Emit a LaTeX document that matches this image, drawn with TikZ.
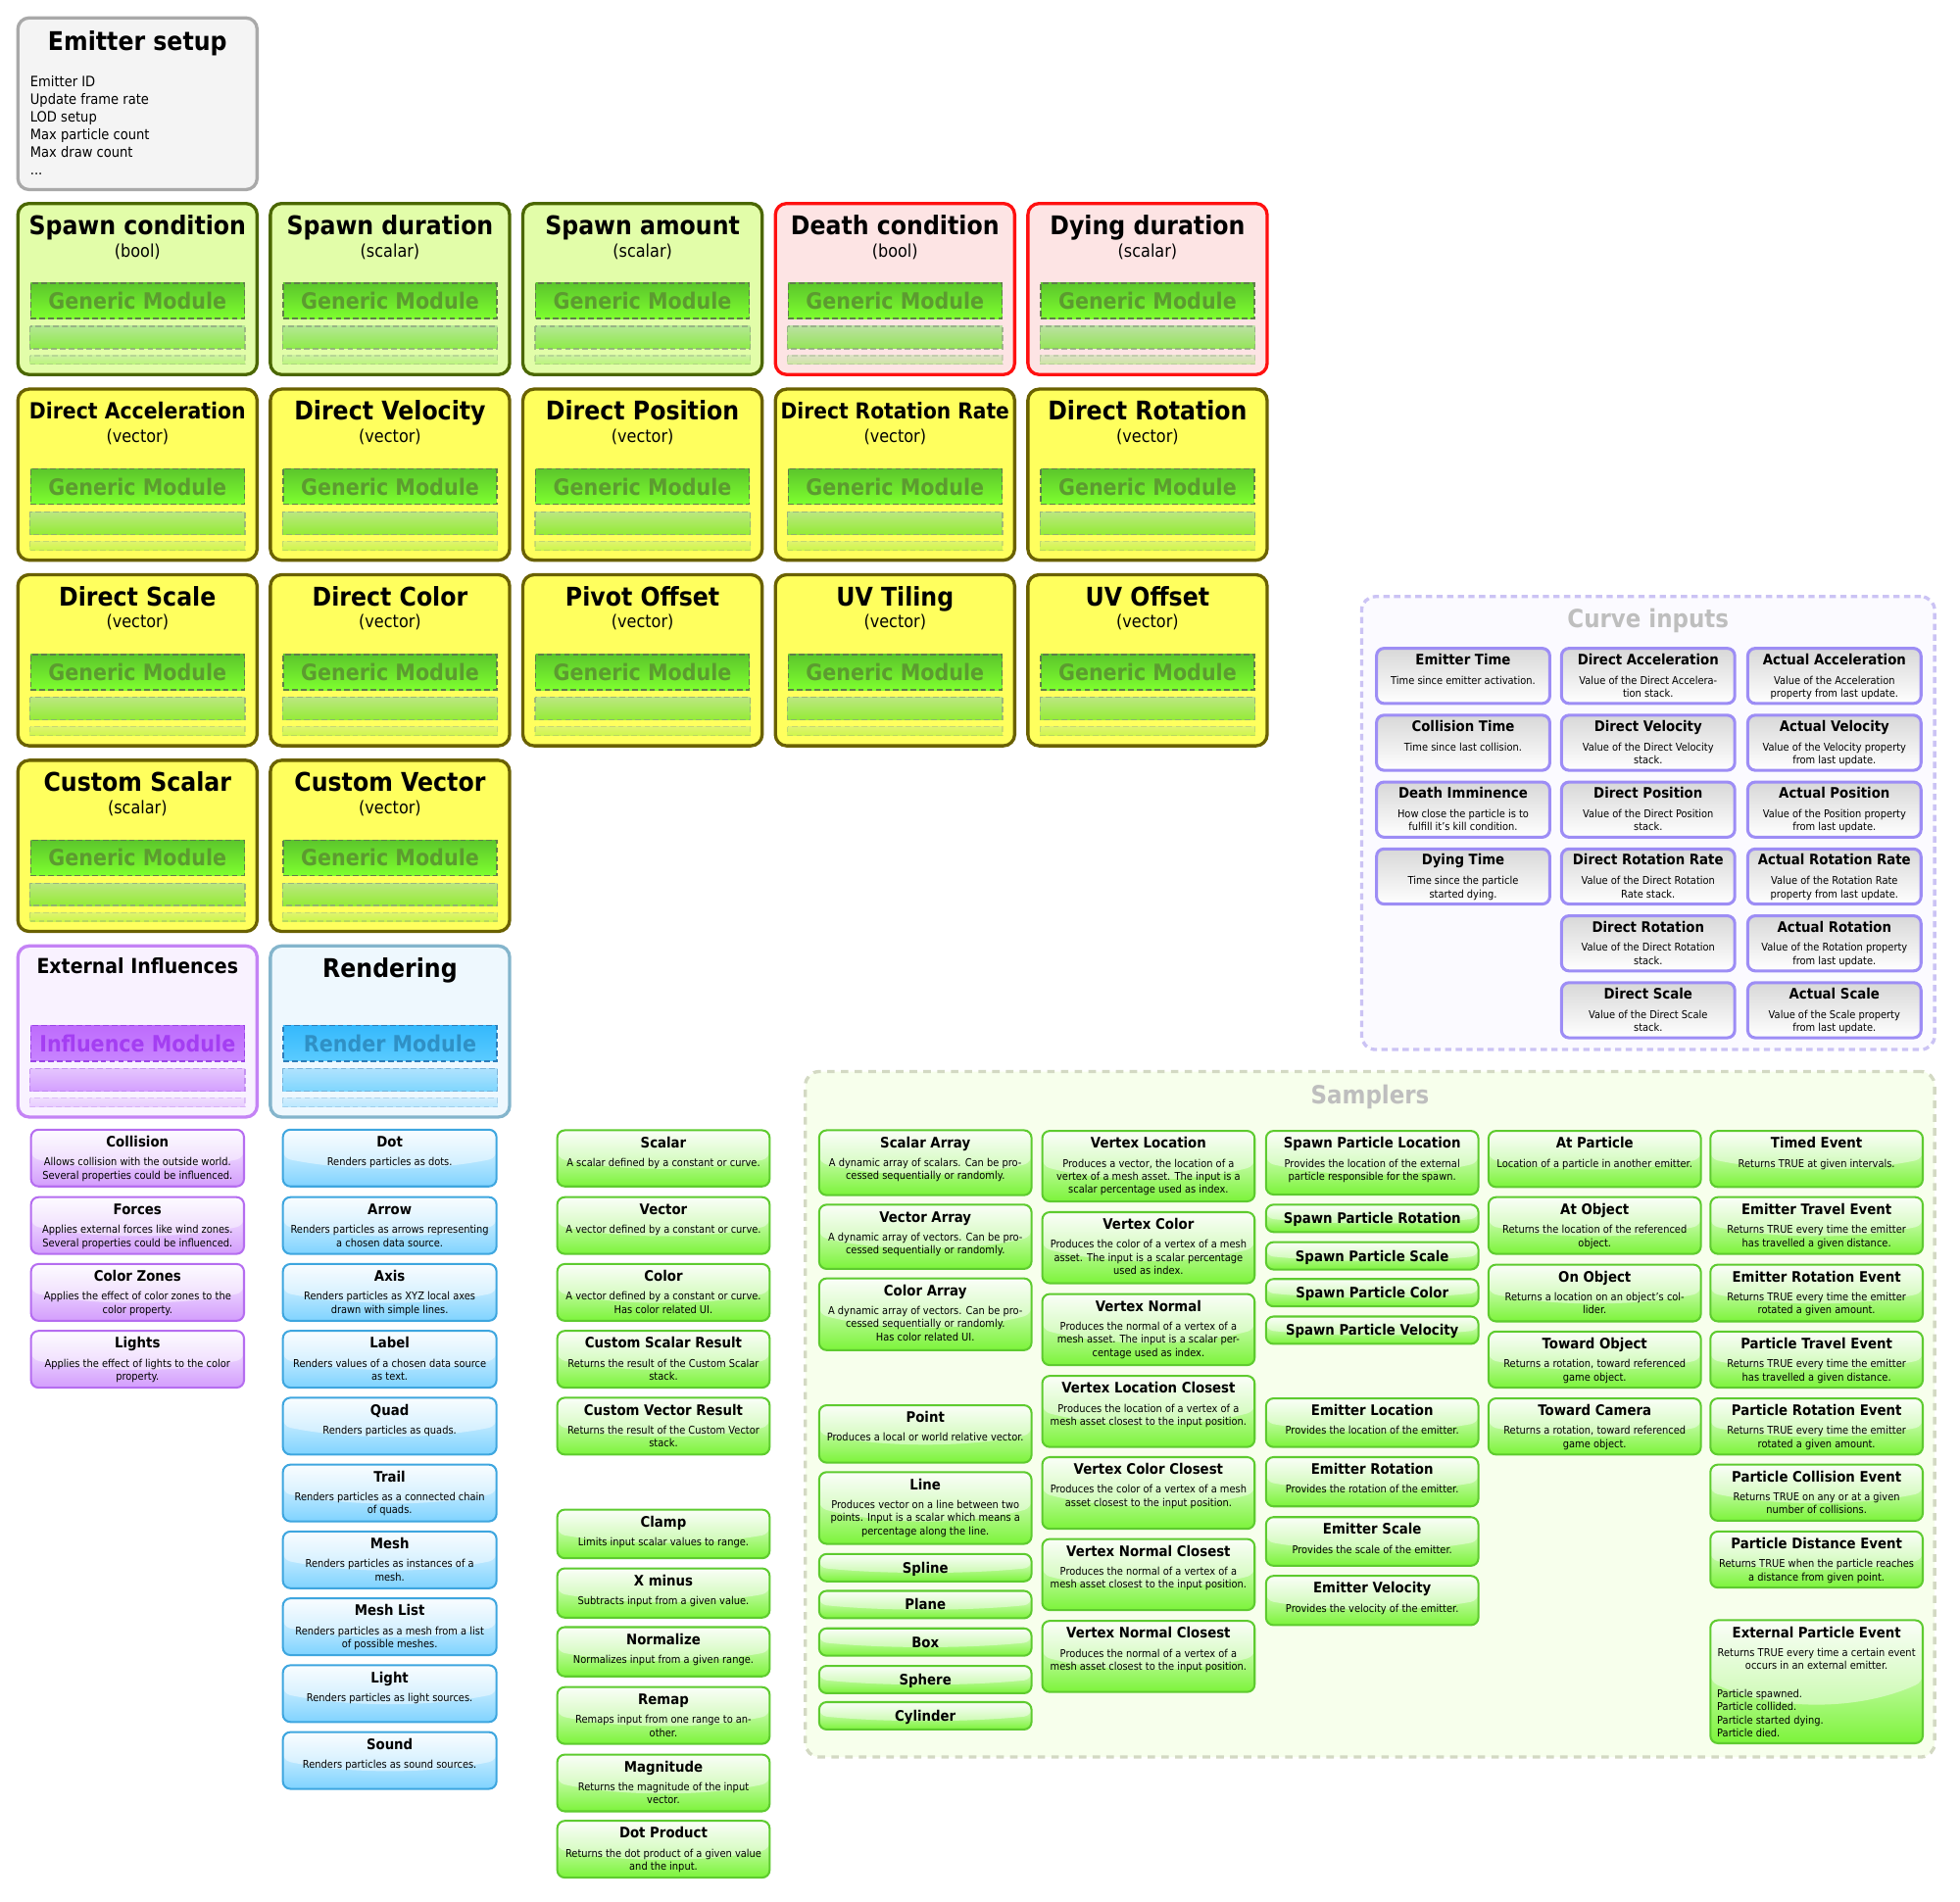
\documentclass[tikz,border=0pt]{standalone}
\usepackage{fontspec}
\setmainfont{DejaVu Sans}[FakeStretch=0.9]
\usetikzlibrary{calc}

\definecolor{emitfill}{HTML}{F4F4F4}
\definecolor{emitedge}{HTML}{A9A9A9}
\definecolor{spawnfill}{HTML}{E2FDA9}
\definecolor{spawnedge}{HTML}{4B6700}
\definecolor{deathfill}{HTML}{FDE4E4}
\definecolor{deathedge}{HTML}{FF1010}
\definecolor{directfill}{HTML}{FFFF5E}
\definecolor{directedge}{HTML}{6A6100}
\definecolor{inflfill}{HTML}{F9F2FF}
\definecolor{infledge}{HTML}{C483F5}
\definecolor{rendfill}{HTML}{EEF8FE}
\definecolor{rendedge}{HTML}{84B5CC}
\definecolor{genbartop}{HTML}{5CC62C}
\definecolor{genbarbot}{HTML}{7EFF2E}
\definecolor{gentext}{HTML}{5C9B30}
\definecolor{genedge}{HTML}{5F7F4A}
\definecolor{inflbartop}{HTML}{BE6CFC}
\definecolor{inflbarbot}{HTML}{C884FF}
\definecolor{infltext}{HTML}{A43EF2}
\definecolor{inflbaredge}{HTML}{9A45E6}
\definecolor{rendbartop}{HTML}{36B9FC}
\definecolor{rendbarbot}{HTML}{5ACBFF}
\definecolor{rendtext}{HTML}{2F90C5}
\definecolor{rendbaredge}{HTML}{2C7DB9}
\definecolor{inflitem}{HTML}{D39DFD}
\definecolor{inflitemedge}{HTML}{B56DF0}
\definecolor{renditem}{HTML}{7FD3FF}
\definecolor{renditemedge}{HTML}{3EA6DF}
\definecolor{greenitem}{HTML}{7CF43A}
\definecolor{greenitemedge}{HTML}{5ECB2F}
\definecolor{curvetop}{HTML}{D8D8D8}
\definecolor{curveedge}{HTML}{9D8DF5}
\definecolor{curvegroupfill}{HTML}{FBFAFF}
\definecolor{curvegroupedge}{HTML}{CBC3F4}
\definecolor{samplerfill}{HTML}{F7FFEC}
\definecolor{sampleredge}{HTML}{D3D9C3}
\definecolor{grouptext}{HTML}{BEBEBE}

\tikzset{
  modbox/.style={draw, line width=2.6pt, rounded corners=9pt, anchor=north west,
    inner sep=0pt, minimum width=191.4pt, minimum height=136.9pt},
  spawnbox/.style={modbox, draw=spawnedge, fill=spawnfill},
  deathbox/.style={modbox, draw=deathedge, fill=deathfill},
  directbox/.style={modbox, draw=directedge, fill=directfill},
  inflbox/.style={modbox, draw=infledge, fill=inflfill},
  rendbox/.style={modbox, draw=rendedge, fill=rendfill},
  modtitle/.style={anchor=base, inner sep=0pt, font=\fontsize{#1}{#1}\selectfont\bfseries},
  modsub/.style={anchor=base, inner sep=0pt, font=\fontsize{14}{16}\selectfont},
  modbar/.style={line width=1.1pt, dash pattern=on 4.5pt off 2.5pt, minimum width=170.9pt,
    minimum height=28.4pt, inner sep=0pt, font=\fontsize{18}{18}\selectfont\bfseries},
  genbar/.style={modbar, draw=genedge, top color=genbartop, bottom color=genbarbot, text=gentext},
  gentwo/.style={draw=genedge!70, line width=1pt, dash pattern=on 4.5pt off 2.5pt,
    top color=genbartop!55!white, bottom color=genbarbot!90!black, opacity=0.75},
  genthree/.style={gentwo, opacity=0.35},
  inflbar/.style={modbar, draw=inflbaredge, top color=inflbartop, bottom color=inflbarbot, text=infltext},
  infltwo/.style={draw=inflbaredge!70, line width=1pt, dash pattern=on 4.5pt off 2.5pt,
    top color=inflbartop!50!white, bottom color=inflbarbot, opacity=0.75},
  inflthree/.style={infltwo, opacity=0.35},
  rendbar/.style={modbar, draw=rendbaredge, top color=rendbartop, bottom color=rendbarbot, text=rendtext},
  rendtwo/.style={draw=rendbaredge!70, line width=1pt, dash pattern=on 4.5pt off 2.5pt,
    top color=rendbartop!50!white, bottom color=rendbarbot, opacity=0.75},
  rendthree/.style={rendtwo, opacity=0.35},
  groupbox/.style={draw, line width=2.6pt, rounded corners=11pt, anchor=north west, inner sep=0pt},
  grouptitle/.style={anchor=base, inner sep=0pt, text=grouptext, font=\fontsize{20}{22}\selectfont\bfseries},
  gloss/.style={path picture={
    \fill[white, fill opacity=#1]
      let \p1=(path picture bounding box.north west),
          \p2=(path picture bounding box.south east) in
      (\x1,\y1) -- (\x2,\y1) -- (\x2,{\y2+0.5*(\y1-\y2)})
      .. controls ({\x2-0.3*(\x2-\x1)},{\y2+0.26*(\y1-\y2)})
         and ({\x1+0.3*(\x2-\x1)},{\y2+0.26*(\y1-\y2)}) .. (\x1,{\y2+0.5*(\y1-\y2)}) -- cycle;
  }},
  listitem/.style={draw, line width=1.6pt, rounded corners=6pt, anchor=north west, inner sep=0pt},
  inflitem/.style={listitem, draw=inflitemedge, top color=inflitem!6!white, bottom color=inflitem,
    gloss=0.45, minimum width=170.4pt},
  renditem/.style={listitem, draw=renditemedge, top color=renditem!8!white, bottom color=renditem,
    gloss=0.45, minimum width=170.9pt},
  greenitem/.style={listitem, draw=greenitemedge, top color=greenitem!6!white, bottom color=greenitem,
    gloss=0.45, minimum width=169.9pt},
  curveitem/.style={listitem, line width=2.4pt, draw=curveedge, top color=curvetop, bottom color=white,
    minimum width=138.6pt, minimum height=44.1pt},
  itemttl/.style={anchor=base, inner sep=0pt, font=\fontsize{11.6}{13}\selectfont\bfseries},
  itemdsc/.style={anchor=north, inner sep=0pt, align=center, font=\fontsize{8.6}{10.5}\selectfont},
}

\begin{document}
\begin{tikzpicture}[x=1pt, y=-1pt]
  \useasboundingbox (0,0) rectangle (1568,1521);

  % group frames
  \node[groupbox, draw=curvegroupedge, fill=curvegroupfill, dash pattern=on 5pt off 3.5pt,
        minimum width=458.4, minimum height=362.4] (curves) at (1088,476) {};
  \node[grouptitle] (curves-t) at (1318.5,502.5) {Curve inputs};
  \node[groupbox, draw=sampleredge, fill=samplerfill, dash pattern=on 6pt off 5pt,
        minimum width=903.4, minimum height=548.4] (samplers) at (643,856) {};
  \node[grouptitle] (samplers-t) at (1096,883) {Samplers};

  % emitter setup
  \node[modbox, draw=emitedge, fill=emitfill, minimum height=137.4] (setup) at (13,13) {};
  \node[modtitle=20.6] (setup-t) at (110,40) {Emitter setup};
  \node[anchor=north west, inner sep=0pt, align=left, font=\fontsize{11.4}{14.1}\selectfont]
    (setup-l) at (24,60.2) {Emitter ID\\Update frame rate\\LOD setup\\Max particle count\\Max draw count\\...};

  % module stacks
  \foreach \c/\r/\ttl/\sub/\kind/\fs in {
      0/0/Spawn condition/bool/spawnbox/20.6, 1/0/Spawn duration/scalar/spawnbox/20.6,
      2/0/Spawn amount/scalar/spawnbox/20.6, 3/0/Death condition/bool/deathbox/20.6,
      4/0/Dying duration/scalar/deathbox/20.6,
      0/1/Direct Acceleration/vector/directbox/17.8, 1/1/Direct Velocity/vector/directbox/20.6,
      2/1/Direct Position/vector/directbox/20.6, 3/1/Direct Rotation Rate/vector/directbox/17.6,
      4/1/Direct Rotation/vector/directbox/20.6,
      0/2/Direct Scale/vector/directbox/20.6, 1/2/Direct Color/vector/directbox/20.6,
      2/2/Pivot Offset/vector/directbox/20.6, 3/2/UV Tiling/vector/directbox/20.6,
      4/2/UV Offset/vector/directbox/20.6,
      0/3/Custom Scalar/scalar/directbox/20.6, 1/3/Custom Vector/vector/directbox/20.6} {
    \pgfmathsetmacro\bx{13+202*\c}
    \pgfmathsetmacro\by{161.5+148.5*\r}
    \node[\kind] (mod-\c-\r) at (\bx,\by) {};
    \begin{scope}[shift={(\bx,\by)}]
      \node[modtitle=\fs] (mod-\c-\r-t) at (97,{16+\fs/2}) {\ttl};
      \node[modsub] (mod-\c-\r-s) at (97,44) {(\sub)};
      \node[genbar] (mod-\c-\r-b) at (97,79.25) {Generic Module};
      \path[gentwo] (11,99.5) rectangle (183,117.5);
      \path[genthree] (11,123) rectangle (183,130);
    \end{scope}
  }

  % external influences
  \node[inflbox] (influences) at (13,755.5) {};
  \begin{scope}[shift={(13,755.5)}]
    \node[modtitle=16.5] (influences-t) at (97,23) {External Influences};
    \node[inflbar] (influences-b) at (97,79.25) {Influence Module};
    \path[infltwo] (11,99.5) rectangle (183,117.5);
    \path[inflthree] (11,123) rectangle (183,130);
  \end{scope}

  % rendering
  \node[rendbox] (rendering) at (215,755.5) {};
  \begin{scope}[shift={(215,755.5)}]
    \node[modtitle=20.6] (rendering-t) at (97,26.5) {Rendering};
    \node[rendbar] (rendering-b) at (97,79.25) {Render Module};
    \path[rendtwo] (11,99.5) rectangle (183,117.5);
    \path[rendthree] (11,123) rectangle (183,130);
  \end{scope}

  % influence modules
  \foreach \y/\ttl/\dsc [count=\i] in {
      903/Collision/{Allows collision with the outside world.\\Several properties could be influenced.},
      957/Forces/{Applies external forces like wind zones.\\Several properties could be influenced.},
      1010.5/Color Zones/{Applies the effect of color zones to the\\color property.},
      1064/Lights/{Applies the effect of lights to the color\\property.}} {
    \node[inflitem, minimum height=45.4] (infl-\i) at (24,\y) {};
    \node[itemttl] (infl-\i-t) at ([yshift=-14.7pt]infl-\i.north) {\ttl};
    \node[itemdsc] (infl-\i-d) at ([yshift=-23pt]infl-\i.north) {\dsc};
  }

  % render modules
  \foreach \y/\ttl/\dsc [count=\i] in {
      903/Dot/{Renders particles as dots.},
      957/Arrow/{Renders particles as arrows representing\\a chosen data source.},
      1010.5/Axis/{Renders particles as XYZ local axes\\drawn with simple lines.},
      1064/Label/{Renders values of a chosen data source\\as text.},
      1117.5/Quad/{Renders particles as quads.},
      1171/Trail/{Renders particles as a connected chain\\of quads.},
      1224.5/Mesh/{Renders particles as instances of a\\mesh.},
      1278/Mesh List/{Renders particles as a mesh from a list\\of possible meshes.},
      1331.5/Light/{Renders particles as light sources.},
      1385/Sound/{Renders particles as sound sources.}} {
    \node[renditem, minimum height=45.4] (rend-\i) at (225.5,\y) {};
    \node[itemttl] (rend-\i-t) at ([yshift=-14.7pt]rend-\i.north) {\ttl};
    \node[itemdsc] (rend-\i-d) at ([yshift=-23pt]rend-\i.north) {\dsc};
  }

  % curve inputs
  \foreach \x/\y/\ttl/\dsc [count=\i] in {
      1100/517.5/Emitter Time/{Time since emitter activation.},
      1100/571/Collision Time/{Time since last collision.},
      1100/624.5/Death Imminence/{How close the particle is to\\fulfill it’s kill condition.},
      1100/678/Dying Time/{Time since the particle\\started dying.},
      1248/517.5/Direct Acceleration/{Value of the Direct Accelera-\\tion stack.},
      1248/571/Direct Velocity/{Value of the Direct Velocity\\stack.},
      1248/624.5/Direct Position/{Value of the Direct Position\\stack.},
      1248/678/Direct Rotation Rate/{Value of the Direct Rotation\\Rate stack.},
      1248/731.5/Direct Rotation/{Value of the Direct Rotation\\stack.},
      1248/785/Direct Scale/{Value of the Direct Scale\\stack.},
      1397/517.5/Actual Acceleration/{Value of the Acceleration\\property from last update.},
      1397/571/Actual Velocity/{Value of the Velocity property\\from last update.},
      1397/624.5/Actual Position/{Value of the Position property\\from last update.},
      1397/678/Actual Rotation Rate/{Value of the Rotation Rate\\property from last update.},
      1397/731.5/Actual Rotation/{Value of the Rotation property\\from last update.},
      1397/785/Actual Scale/{Value of the Scale property\\from last update.}} {
    \node[curveitem] (curve-\i) at (\x,\y) {};
    \node[itemttl] (curve-\i-t) at ([yshift=-14.2pt]curve-\i.north) {\ttl};
    \node[itemdsc] (curve-\i-d) at ([yshift=-23pt]curve-\i.north) {\dsc};
  }

  % value modules and samplers
  \foreach \x/\y/\h/\ttl/\dsc [count=\i] in {
      445/903.5/46.5/Scalar/{A scalar defined by a constant or curve.},
      445/957/47/Vector/{A vector defined by a constant or curve.},
      445/1010.5/47/Color/{A vector defined by a constant or curve.\\Has color related UI.},
      445/1064/47/Custom Scalar Result/{Returns the result of the Custom Scalar\\stack.},
      445/1117.5/47/Custom Vector Result/{Returns the result of the Custom Vector\\stack.},
      445/1207/40.5/Clamp/{Limits input scalar values to range.},
      445/1254/41/X minus/{Subtracts input from a given value.},
      445/1301/41/Normalize/{Normalizes input from a given range.},
      445/1349/47/Remap/{Remaps input from one range to an-\\other.},
      445/1403/47/Magnitude/{Returns the magnitude of the input\\vector.},
      445/1456/47/Dot Product/{Returns the dot product of a given value\\and the input.},
      654.5/903.5/53.5/Scalar Array/{A dynamic array of scalars. Can be pro-\\cessed sequentially or randomly.},
      654.5/963/53/Vector Array/{A dynamic array of vectors. Can be pro-\\cessed sequentially or randomly.},
      654.5/1022/59/Color Array/{A dynamic array of vectors. Can be pro-\\cessed sequentially or randomly.\\Has color related UI.},
      654.5/1123.5/47.5/Point/{Produces a local or world relative vector.},
      654.5/1177/59/Line/{Produces vector on a line between two\\points. Input is a scalar which means a\\percentage along the line.},
      833/904/58/Vertex Location/{Produces a vector, the location of a\\vertex of a mesh asset. The input is a\\scalar percentage used as index.},
      833/969/58.5/Vertex Color/{Produces the color of a vertex of a mesh\\asset. The input is a scalar percentage\\used as index.},
      833/1034.5/58.5/Vertex Normal/{Produces the normal of a vertex of a\\mesh asset. The input is a scalar per-\\centage used as index.},
      833/1100/58.5/Vertex Location Closest/{Produces the location of a vertex of a\\mesh asset closest to the input position.},
      833/1165/59/Vertex Color Closest/{Produces the color of a vertex of a mesh\\asset closest to the input position.},
      833/1230.5/58.5/Vertex Normal Closest/{Produces the normal of a vertex of a\\mesh asset closest to the input position.},
      833/1296/58.5/Vertex Normal Closest/{Produces the normal of a vertex of a\\mesh asset closest to the input position.},
      1012/904/52.5/Spawn Particle Location/{Provides the location of the external\\particle responsible for the spawn.},
      1012/1118/40.5/Emitter Location/{Provides the location of the emitter.},
      1012/1165/41/Emitter Rotation/{Provides the rotation of the emitter.},
      1012/1213/40.5/Emitter Scale/{Provides the scale of the emitter.},
      1012/1260/41/Emitter Velocity/{Provides the velocity of the emitter.},
      1190/904/46.5/At Particle/{Location of a particle in another emitter.},
      1190/957/47/At Object/{Returns the location of the referenced\\object.},
      1190/1011/47/On Object/{Returns a location on an object’s col-\\lider.},
      1190/1064.5/46.5/Toward Object/{Returns a rotation, toward referenced\\game object.},
      1190/1118/46.5/Toward Camera/{Returns a rotation, toward referenced\\game object.},
      1367.5/904/46.5/Timed Event/{Returns TRUE at given intervals.},
      1367.5/957/47/Emitter Travel Event/{Returns TRUE every time the emitter\\has travelled a given distance.},
      1367.5/1011/47/Emitter Rotation Event/{Returns TRUE every time the emitter\\rotated a given amount.},
      1367.5/1064.5/46.5/Particle Travel Event/{Returns TRUE every time the emitter\\has travelled a given distance.},
      1367.5/1118/46.5/Particle Rotation Event/{Returns TRUE every time the emitter\\rotated a given amount.},
      1367.5/1171/46.5/Particle Collision Event/{Returns TRUE on any or at a given\\number of collisions.},
      1367.5/1224.5/46.5/Particle Distance Event/{Returns TRUE when the particle reaches\\a distance from given point.}} {
    \node[greenitem, minimum height={\h-1.6}] (val-\i) at (\x,\y) {};
    \node[itemttl] (val-\i-t) at ([yshift=-14.7pt]val-\i.north) {\ttl};
    \node[itemdsc] (val-\i-d) at ([yshift=-23pt]val-\i.north) {\dsc};
  }

  % samplers without description
  \foreach \x/\y/\ttl [count=\i] in {
      654.5/1242.5/Spline, 654.5/1272/Plane, 654.5/1302/Box, 654.5/1332/Sphere,
      654.5/1361/Cylinder, 1012/963/Spawn Particle Rotation, 1012/993/Spawn Particle Scale,
      1012/1022.5/Spawn Particle Color, 1012/1052.5/Spawn Particle Velocity} {
    \node[greenitem, minimum height=21.9] (shape-\i) at (\x,\y) {};
    \node[itemttl] (shape-\i-t) at ([yshift=-16pt]shape-\i.north) {\ttl};
  }

  % external particle event
  \node[greenitem, minimum height=98.4] (extevent) at (1367.5,1295.5) {};
  \node[itemttl] (extevent-t) at ([yshift=-14.7pt]extevent.north) {External Particle Event};
  \node[itemdsc] (extevent-d) at ([yshift=-23pt]extevent.north)
    {Returns TRUE every time a certain event\\occurs in an external emitter.};
  \node[itemdsc, anchor=north west, align=left] (extevent-l) at (1373.5,1351.5)
    {Particle spawned.\\Particle collided.\\Particle started dying.\\Particle died.};
\end{tikzpicture}
\end{document}
